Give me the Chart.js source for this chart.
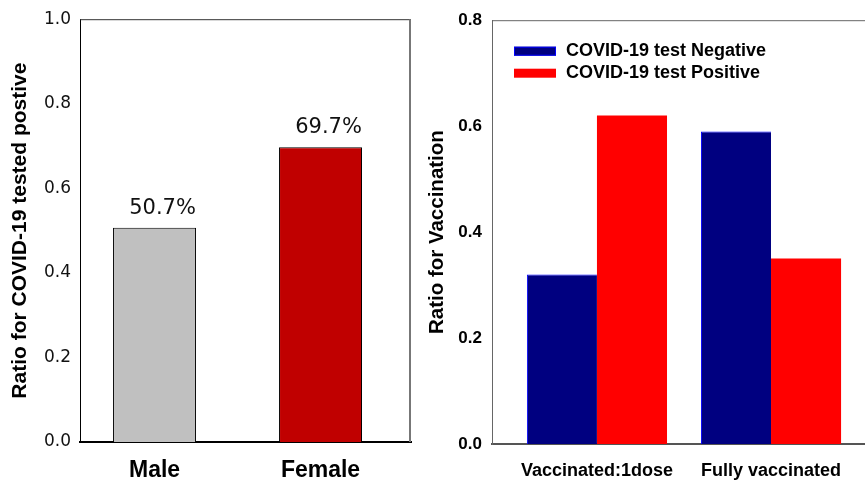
<!DOCTYPE html>
<html>
<head>
<meta charset="utf-8">
<script src="https://cdn.jsdelivr.net/npm/chart.js@4.4.1/dist/chart.umd.min.js"></script>
<style>
  html, body { margin: 0; padding: 0; background: #fff; }
  #wrap { position: relative; width: 865px; height: 483px; }
  #left { position: absolute; left: 0; top: 0; }
  #right { position: absolute; left: 420px; top: 0; }
</style>
</head>
<body>
<div id="wrap">
  <canvas id="left" width="420" height="483"></canvas>
  <canvas id="right" width="445" height="483"></canvas>
</div>
<script>
// Dados - gráfico da esquerda
const sexos = ['Male', 'Female'];
const razaoPositivo = [0.507, 0.697];
const rotulosPct = ['50.7%', '69.7%'];
const coresSexo = ['#c0c0c0', '#c00000'];
const ticksEsq = [0, 0.2, 0.4, 0.6, 0.8, 1.0];

// Dados - gráfico da direita
const vacinacao = ['Vaccinated:1dose', 'Fully vaccinated'];
const negativo = [0.32, 0.59];
const positivo = [0.62, 0.35];
const ticksDir = [0, 0.2, 0.4, 0.6, 0.8];

const arial = '"Liberation Sans", Arial, sans-serif';
const dejavu = '"DejaVu Sans", sans-serif';

// Moldura (linhas do topo / direita)
const moldura = {
  id: 'moldura',
  afterDraw(chart, args, opts) {
    const { ctx, chartArea: a } = chart;
    ctx.save();
    ctx.strokeStyle = opts.topo;
    ctx.lineWidth = 1;
    ctx.beginPath();
    ctx.moveTo(a.left, a.top + 0.5);
    ctx.lineTo(a.right, a.top + 0.5);
    ctx.stroke();
    if (opts.direita) {
      ctx.strokeStyle = opts.direita;
      ctx.lineWidth = 2;
      ctx.beginPath();
      ctx.moveTo(a.right - 1, a.top);
      ctx.lineTo(a.right - 1, a.bottom);
      ctx.stroke();
    }
    ctx.restore();
  }
};

// Rótulos de percentagem acima das barras
const rotulos = {
  id: 'rotulos',
  afterDatasetsDraw(chart) {
    const { ctx } = chart;
    const meta = chart.getDatasetMeta(0);
    ctx.save();
    ctx.font = '21px ' + dejavu;
    ctx.fillStyle = '#111';
    ctx.textAlign = 'center';
    ctx.textBaseline = 'bottom';
    meta.data.forEach((bar, i) => {
      ctx.fillText(rotulosPct[i], bar.x + 8, bar.y - 9);
    });
    ctx.restore();
  }
};

// Legenda desenhada dentro da área do gráfico
const legenda = {
  id: 'legenda',
  afterDraw(chart) {
    const { ctx, chartArea: a } = chart;
    ctx.save();
    ctx.font = 'bold 18px ' + arial;
    ctx.textBaseline = 'middle';
    chart.data.datasets.forEach((ds, i) => {
      const y = a.top + 31 + i * 22;
      ctx.fillStyle = ds.backgroundColor;
      ctx.fillRect(a.left + 22, y - 4.5, 42, 9);
      if (i === 0) {
        ctx.strokeStyle = '#0000ff';
        ctx.lineWidth = 1;
        ctx.strokeRect(a.left + 22.5, y - 4, 41, 8);
      }
      ctx.fillStyle = '#000';
      ctx.fillText(ds.label, a.left + 74, y);
    });
    ctx.restore();
  }
};

function fixarLargura(w) {
  return scale => { scale.width = w; };
}
function fixarAltura(h) {
  return scale => { scale.height = h; };
}

// Gráfico da esquerda
new Chart(document.getElementById('left'), {
  type: 'bar',
  data: {
    datasets: [{
      data: razaoPositivo.map((v, i) => ({ x: i, y: v })),
      backgroundColor: coresSexo,
      borderColor: '#000',
      borderWidth: 1,
      borderSkipped: 'bottom',
      barPercentage: 1,
      categoryPercentage: 0.5
    }]
  },
  options: {
    responsive: false,
    animation: false,
    layout: { padding: { top: 17, right: 9, left: 0, bottom: 0 } },
    plugins: { legend: { display: false }, tooltip: { enabled: false }, moldura: { topo: '#333', direita: '#777' } },
    scales: {
      x: {
        type: 'linear',
        offset: false,
        min: -0.449,
        max: 1.545,
        grid: { display: false, drawTicks: false },
        border: { display: true, color: '#000', width: 2 },
        afterBuildTicks: s => { s.ticks = sexos.map((_, i) => ({ value: i })); },
        afterFit: fixarAltura(41),
        ticks: {
          autoSkip: false,
          maxRotation: 0,
          padding: 15,
          color: '#000',
          font: { family: arial, size: 23, weight: 'bold' },
          callback: v => sexos[v]
        }
      },
      y: {
        min: 0,
        max: 1.0,
        grid: { display: false, drawTicks: false },
        border: { display: true, color: '#000', width: 1 },
        afterBuildTicks: s => { s.ticks = ticksEsq.map(v => ({ value: v })); },
        afterFit: fixarLargura(80),
        ticks: {
          padding: 9,
          color: '#111',
          font: { family: dejavu, size: 17 },
          callback: v => v.toFixed(1)
        },
        title: {
          display: true,
          text: 'Ratio for COVID-19 tested postive',
          color: '#000',
          font: { family: arial, size: 21, weight: 'bold' },
          padding: { top: 8, bottom: 0 }
        }
      }
    }
  },
  plugins: [moldura, rotulos]
});

// Gráfico da direita
new Chart(document.getElementById('right'), {
  type: 'bar',
  data: {
    datasets: [
      {
        label: 'COVID-19 test Negative',
        data: negativo.map((v, i) => ({ x: i, y: v })),
        backgroundColor: '#000080',
        borderColor: '#0000ff',
        borderWidth: { left: 1, top: 1, right: 0, bottom: 0 },
        borderSkipped: false
      },
      {
        label: 'COVID-19 test Positive',
        data: positivo.map((v, i) => ({ x: i, y: v })),
        backgroundColor: '#ff0000',
        borderWidth: 0
      }
    ]
  },
  options: {
    responsive: false,
    animation: false,
    datasets: { bar: { barPercentage: 1, categoryPercentage: 0.805 } },
    layout: { padding: { top: 19, right: 0, left: 0, bottom: 0 } },
    plugins: { legend: { display: false }, tooltip: { enabled: false }, moldura: { topo: '#666', direita: null } },
    scales: {
      x: {
        type: 'linear',
        offset: false,
        min: -0.603,
        max: 1.54,
        grid: { display: false, drawTicks: false },
        border: { display: true, color: '#555', width: 2 },
        afterBuildTicks: s => { s.ticks = vacinacao.map((_, i) => ({ value: i })); },
        afterFit: fixarAltura(483 - 444),
        ticks: {
          autoSkip: false,
          maxRotation: 0,
          padding: 16,
          color: '#000',
          font: { family: arial, size: 18, weight: 'bold' },
          callback: v => vacinacao[v]
        }
      },
      y: {
        min: 0,
        max: 0.8,
        grid: { display: false, drawTicks: false },
        border: { display: true, color: '#666', width: 1 },
        afterBuildTicks: s => { s.ticks = ticksDir.map(v => ({ value: v })); },
        afterFit: fixarLargura(72),
        ticks: {
          padding: 10,
          color: '#000',
          font: { family: arial, size: 17, weight: 'bold' },
          callback: v => v.toFixed(1)
        },
        title: {
          display: true,
          text: 'Ratio for Vaccination',
          color: '#000',
          font: { family: arial, size: 20.5, weight: 'bold' },
          padding: { top: 5, bottom: 0 }
        }
      }
    }
  },
  plugins: [moldura, legenda]
});
</script>
</body>
</html>
